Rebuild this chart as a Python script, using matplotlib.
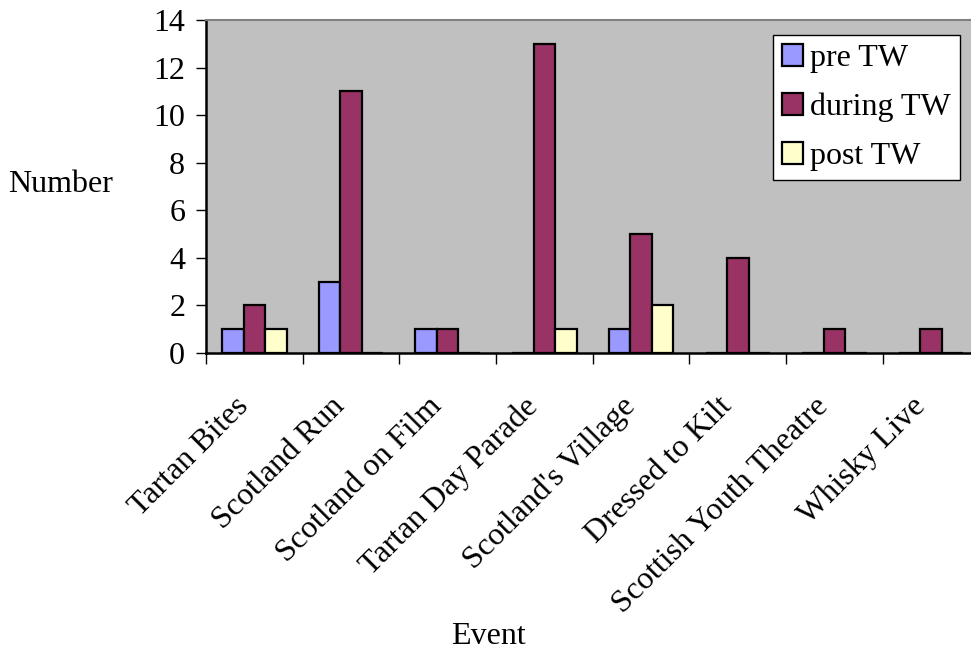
import numpy as np
import matplotlib
matplotlib.use("Agg")
import matplotlib.pyplot as plt

plt.rcParams['font.family'] = ['Liberation Serif', 'DejaVu Serif']

events = ["Tartan Bites", "Scotland Run", "Scotland on Film", "Tartan Day Parade",
          "Scotland's Village", "Dressed to Kilt", "Scottish Youth Theatre", "Whisky Live"]
pre_tw = [1, 3, 1, 0, 1, 0, 0, 0]
during_tw = [2, 11, 1, 13, 5, 4, 1, 1]
post_tw = [1, 0, 0, 1, 2, 0, 0, 0]

series = [("pre TW", pre_tw, "#9999FF"),
          ("during TW", during_tw, "#993366"),
          ("post TW", post_tw, "#FFFFCC")]

FS = 23
W, H = 971, 653
fig = plt.figure(figsize=(W / 100, H / 100), dpi=100)
ax = fig.add_axes([206 / W, (H - 353) / H, (979.5 - 206) / W, (353 - 20) / H])
ax.set_facecolor("#C0C0C0")

x = np.arange(len(events))
bw = 1 / 4.5
for i, (name, vals, col) in enumerate(series):
    ax.bar(x + (i - 1) * bw, vals, width=bw, color=col, edgecolor="black",
           linewidth=1.6, label=name)

ax.set_xlim(-0.5, len(events) - 0.5)
ax.set_ylim(0, 14)
ax.set_yticks(range(0, 15, 2))
ax.tick_params(axis="y", direction="out", length=7, width=1, labelsize=FS, pad=8)

ax.set_xticks(x)
ax.set_xticklabels(events, rotation=45, ha="right", va="top", fontsize=FS)
ax.tick_params(axis="x", which="major", length=0, pad=28)
ax.set_xticks(np.arange(-0.5, len(events), 1), minor=True)
ax.tick_params(axis="x", which="minor", direction="out", length=8, width=1)

for s in ["top", "right"]:
    ax.spines[s].set_color("#808080")
    ax.spines[s].set_linewidth(1.5)
for s in ["left", "bottom"]:
    ax.spines[s].set_color("black")
    ax.spines[s].set_linewidth(1.8)

fig.text(61 / W, 1 - 184 / H, "Number", fontsize=FS, ha="center", va="center")
fig.text(488 / W, 1 - 637 / H, "Event", fontsize=FS, ha="center", va="center")

leg = ax.legend(loc="upper left", bbox_to_anchor=(772.7 / W, 1 - 35 / H),
                bbox_transform=fig.transFigure, borderaxespad=0, fontsize=FS,
                frameon=True, fancybox=False, shadow=False, framealpha=1,
                handlelength=0.68, handleheight=0.68, handletextpad=0.22,
                labelspacing=0.62, borderpad=0.28)
leg.get_frame().set_edgecolor("black")
leg.get_frame().set_linewidth(1)

fig.savefig("out.png", dpi=100)
